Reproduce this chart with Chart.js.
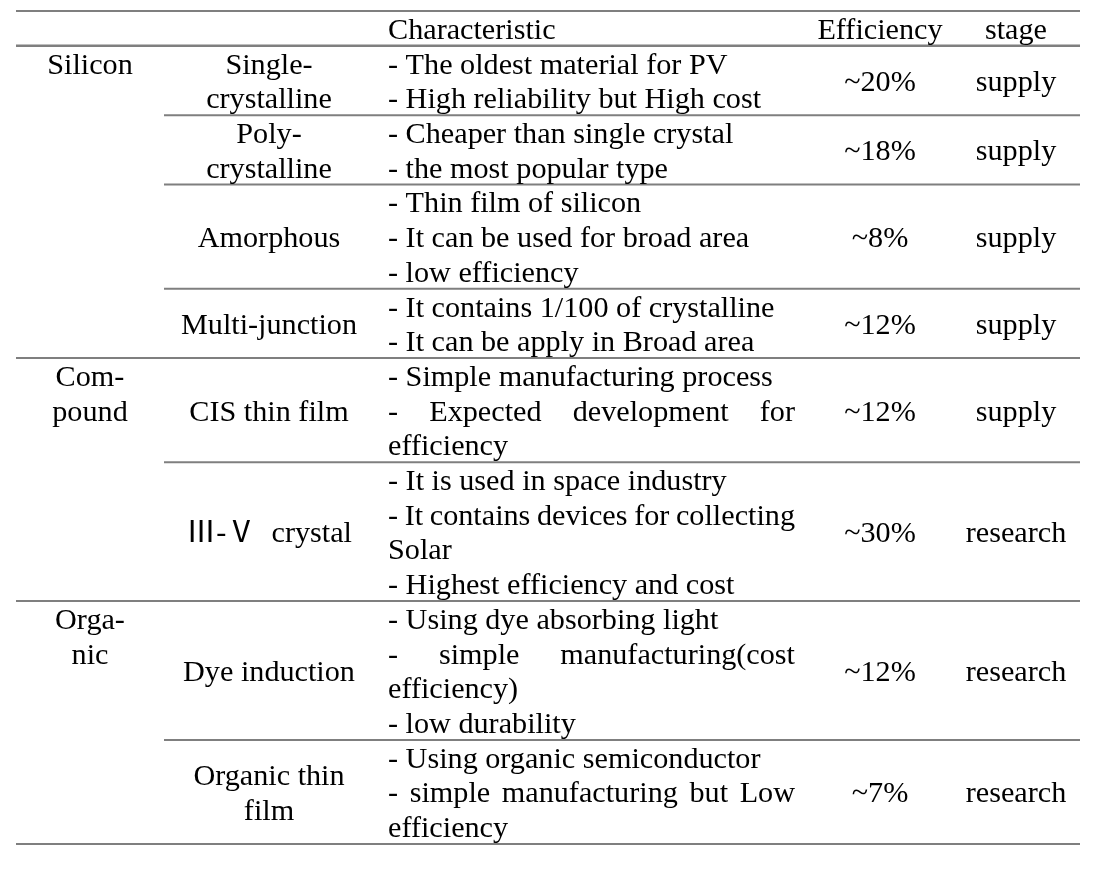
<!DOCTYPE html>
<html>
<head>
<meta charset="utf-8">
<script src="https://cdn.jsdelivr.net/npm/chart.js@4"></script>
<style>
  html, body { margin: 0; padding: 0; background: #ffffff; }
  canvas { display: block; }
</style>
</head>
<body>
<canvas id="c" width="1098" height="877" style="width:1098px;height:877px"></canvas>
<script>
// ---------- data ----------
const headers = ["", "", "Characteristic", "Efficiency", "stage"];
const groups = [["Silicon"], ["Com-", "pound"], ["Orga-", "nic"]];
const groupRowCounts = [4, 2, 2];
const types = [
  ["Single-", "crystalline"],
  ["Poly-", "crystalline"],
  ["Amorphous"],
  ["Multi-junction"],
  ["CIS thin film"],
  ["\u2162-\u2164  crystal"],
  ["Dye induction"],
  ["Organic thin", "film"]
];
const characteristics = [
  [["- The oldest material for PV"], ["- High reliability but High cost"]],
  [["- Cheaper than single crystal"], ["- the most popular type"]],
  [["- Thin film of silicon"], ["- It can be used for broad area"], ["- low efficiency"]],
  [["- It contains 1/100 of crystalline"], ["- It can be apply in Broad area"]],
  [["- Simple manufacturing process"], ["- Expected development for", "efficiency"]],
  [["- It is used in space industry"], ["- It contains devices for collecting", "Solar"], ["- Highest efficiency and cost"]],
  [["- Using dye absorbing light"], ["- simple manufacturing(cost", "efficiency)"], ["- low durability"]],
  [["- Using organic semiconductor"], ["- simple manufacturing but Low", "efficiency"]]
];
const efficiency = [20, 18, 8, 12, 12, 30, 12, 7];
const stages = ["supply", "supply", "supply", "supply", "supply", "research", "research", "research"];

// ---------- layout (table units) ----------
const TABLE_W = 1064;
const colGroupCenter = 74;
const colTypeCenter = 253;
const colCharLeft = 372;
const colCharRight = 779;
const colEffCenter = 864;
const colStageCenter = 1000;
const subRuleStart = 148;
const HEADER_UNITS = 1;

const rowLines = characteristics.map(r => r.reduce((s, p) => s + p.length, 0));
const totalUnits = HEADER_UNITS + rowLines.reduce((a, b) => a + b, 0);

const FONT = "30.2px 'Liberation Serif', 'Noto Sans CJK JP', serif";
const BASE_OFF = 10.5;

const tablePlugin = {
  id: 'tablePlugin',
  beforeDraw(chart) {
    const ctx = chart.ctx;
    ctx.save();
    ctx.fillStyle = '#ffffff';
    ctx.fillRect(0, 0, chart.width, chart.height);
    ctx.restore();
  },
  afterDraw(chart) {
    const ctx = chart.ctx;
    const xs = chart.scales.x, ys = chart.scales.y;
    const X = v => xs.getPixelForValue(v);
    const Y = v => ys.getPixelForValue(v);
    ctx.save();

    // rules
    ctx.strokeStyle = '#7f7f7f';
    function rule(u, x0, w) {
      ctx.lineWidth = w || 2;
      ctx.beginPath();
      ctx.moveTo(X(x0), Y(u));
      ctx.lineTo(X(TABLE_W), Y(u));
      ctx.stroke();
    }
    rule(0, 0, 2);
    rule(HEADER_UNITS, 0, 2.5);

    const rowStart = [];
    let u = HEADER_UNITS;
    for (let i = 0; i < rowLines.length; i++) { rowStart.push(u); u += rowLines[i]; }
    const groupLast = new Set();
    let gi = 0;
    for (let g = 0; g < groupRowCounts.length; g++) { gi += groupRowCounts[g]; groupLast.add(gi - 1); }
    for (let i = 0; i < rowLines.length; i++) {
      const bottom = rowStart[i] + rowLines[i];
      rule(bottom, groupLast.has(i) ? 0 : subRuleStart, 2);
    }

    // text
    ctx.fillStyle = '#000000';
    ctx.font = FONT;
    ctx.textBaseline = 'alphabetic';
    function txt(s, xu, lineCenterU, align) {
      ctx.textAlign = align;
      ctx.fillText(s, X(xu), Y(lineCenterU) + BASE_OFF);
    }
    function justified(s, lineCenterU) {
      const words = s.split(' ').filter(w => w.length);
      const left = X(colCharLeft), right = X(colCharRight);
      const total = words.reduce((a, w) => a + ctx.measureText(w).width, 0);
      const gap = (right - left - total) / (words.length - 1);
      ctx.textAlign = 'left';
      let x = left;
      const y = Y(lineCenterU) + BASE_OFF;
      for (const w of words) {
        ctx.fillText(w, x, y);
        x += ctx.measureText(w).width + gap;
      }
    }

    // header
    txt(headers[2], colCharLeft, HEADER_UNITS / 2, 'left');
    txt(headers[3], colEffCenter, HEADER_UNITS / 2, 'center');
    txt(headers[4], colStageCenter, HEADER_UNITS / 2, 'center');

    // groups (top aligned)
    let r = 0;
    for (let g = 0; g < groups.length; g++) {
      const top = rowStart[r];
      groups[g].forEach((s, j) => txt(s, colGroupCenter, top + 0.5 + j, 'center'));
      r += groupRowCounts[g];
    }

    // rows
    for (let i = 0; i < rowLines.length; i++) {
      const top = rowStart[i];
      const center = top + rowLines[i] / 2;
      const n = types[i].length;
      types[i].forEach((s, j) => txt(s, colTypeCenter, center + (j - (n - 1) / 2), 'center'));
      let k = 0;
      characteristics[i].forEach(par => {
        par.forEach((line, j) => {
          const lc = top + 0.5 + k;
          if (j < par.length - 1) justified(line, lc);
          else txt(line, colCharLeft, lc, 'left');
          k++;
        });
      });
      txt('~' + efficiency[i] + '%', colEffCenter, center, 'center');
      txt(stages[i], colStageCenter, center, 'center');
    }
    ctx.restore();
  }
};

new Chart(document.getElementById('c'), {
  type: 'scatter',
  data: { datasets: [{ data: [], pointRadius: 0 }] },
  options: {
    responsive: false,
    animation: false,
    layout: { padding: { left: 16, right: 18, top: 11, bottom: 33 } },
    plugins: { legend: { display: false }, tooltip: { enabled: false } },
    scales: {
      x: { type: 'linear', min: 0, max: TABLE_W, display: false },
      y: { type: 'linear', min: 0, max: totalUnits, reverse: true, display: false }
    }
  },
  plugins: [tablePlugin]
});
</script>
</body>
</html>
